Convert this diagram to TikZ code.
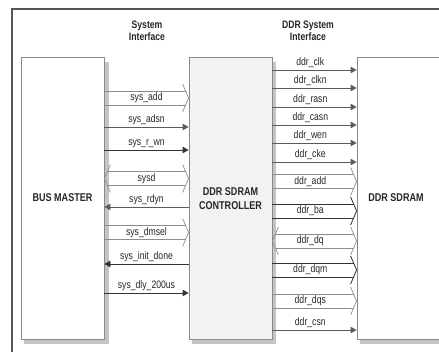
\documentclass[tikz,border=0pt]{standalone}
\usepackage{fontspec}
\setmainfont[FakeStretch=0.8]{Liberation Sans}
\usetikzlibrary{arrows.meta,calc}
\definecolor{framec}{HTML}{555555}
\definecolor{boxc}{HTML}{8A8A8A}
\definecolor{shadowc}{HTML}{C4C4C4}
\definecolor{ctrlfill}{HTML}{F2F2F2}
\definecolor{darkline}{HTML}{333333}
\definecolor{midline}{HTML}{5A5A5A}
\definecolor{lightline}{HTML}{8C8C8C}
\definecolor{textc}{HTML}{262626}
\newcommand{\mkbusright}[6]{%
  \draw[#5] (#1.east |- 0,#3-7) -- ($(#2.west |- 0,#3-7)+(-3,0)$);
  \draw[#5] (#1.east |- 0,#3+7) -- ($(#2.west |- 0,#3+7)+(-3,0)$);
  \draw[#5] ($(#2.west |- 0,#3)+(-6,-14)$) -- (#2.west |- 0,#3) -- ($(#2.west |- 0,#3)+(-6,14)$);
  \path (#1.east |- 0,#3) -- node[pos=#6, lab]{#4} (#2.west |- 0,#3);
}
\newcommand{\mkbusboth}[6]{%
  \draw[#5] ($(#1.east |- 0,#3-7)+(3,0)$) -- ($(#2.west |- 0,#3-7)+(-3,0)$);
  \draw[#5] ($(#1.east |- 0,#3+7)+(3,0)$) -- ($(#2.west |- 0,#3+7)+(-3,0)$);
  \draw[#5] ($(#2.west |- 0,#3)+(-6,-14)$) -- (#2.west |- 0,#3) -- ($(#2.west |- 0,#3)+(-6,14)$);
  \draw[#5] ($(#1.east |- 0,#3)+(6,-14)$) -- (#1.east |- 0,#3) -- ($(#1.east |- 0,#3)+(6,14)$);
  \path (#1.east |- 0,#3) -- node[pos=#6, lab]{#4} (#2.west |- 0,#3);
}
\tikzset{
  blk/.style={draw=boxc, line width=0.8pt, fill=white, minimum width=83pt, minimum height=282pt, inner sep=0pt},
  blktext/.style={font=\bfseries\fontsize{11.3}{14}\selectfont, text=black!85, align=center},
  head/.style={font=\bfseries\fontsize{10.8}{12}\selectfont, text=textc, align=center},
  lab/.style={font=\fontsize{10.8}{12}\selectfont, text=textc, inner sep=1pt},
  sigR/.style={line width=0.8pt, -{Triangle[length=6pt,width=6.5pt]}},
  sigL/.style={line width=0.8pt, {Triangle[length=6pt,width=6.5pt]}-},
  busl/.style={line width=0.7pt, draw=lightline},
  busd/.style={line width=0.8pt, draw=darkline},
}
\begin{document}
\begin{tikzpicture}[x=1pt, y=-1pt]
\useasboundingbox (0,0) rectangle (439,351);
% frame
\draw[framec, line width=1.3pt] (12,355) -- (12,9) -- (445,9);
% headers
\node[head] (h1) at (147,30.5) {System\\Interface};
\node[head] (h2) at (308,30.5) {DDR System\\Interface};
% shadows
\fill[shadowc] (24,339) rectangle (108.5,343.5);
\fill[shadowc] (104,62) rectangle (108.5,343.5);
\fill[shadowc] (192,339) rectangle (275.5,343.5);
\fill[shadowc] (272,62) rectangle (275.5,343.5);
\fill[shadowc] (360,339) rectangle (445,343.5);
% blocks
\node[blk] (bm) at (62.5,198) {};
\node[blk, fill=ctrlfill] (ctrl) at (230.5,198) {};
\node[blk, minimum width=90pt] (mem) at (402,198) {};
\node[blktext] (bmt) at (bm.center) {BUS MASTER};
\node[blktext] (ctrlt) at (230.5,198.5) {DDR SDRAM\\CONTROLLER};
\node[blktext] (memt) at (396,198) {DDR SDRAM};
% system side
\mkbusright{bm}{ctrl}{98}{sys\_add}{busl}{0.5}
\draw[sigR, midline] (bm.east |- 0,127) -- node[lab, above=0.5pt]{sys\_adsn} (ctrl.west |- 0,127);
\draw[sigR, darkline] (bm.east |- 0,150) -- node[lab, above=0.5pt]{sys\_r\_wn} (ctrl.west |- 0,150);
\mkbusboth{bm}{ctrl}{178.5}{sysd}{busl}{0.5}
\draw[sigL, midline] (bm.east |- 0,207) -- node[lab, above=0.5pt]{sys\_rdyn} (ctrl.west |- 0,207);
\mkbusright{bm}{ctrl}{232.5}{sys\_dmsel}{busl}{0.5}
\draw[sigL, darkline] (bm.east |- 0,264) -- node[lab, above=0.5pt]{sys\_init\_done} (ctrl.west |- 0,264);
\draw[sigR, darkline] (bm.east |- 0,293) -- node[lab, above=0.5pt]{sys\_dly\_200us} (ctrl.west |- 0,293);
% ddr side
\draw[sigR, midline] (ctrl.east |- 0,70) -- node[pos=0.45, lab, above=0.5pt]{ddr\_clk} (mem.west |- 0,70);
\draw[sigR, midline] (ctrl.east |- 0,88) -- node[pos=0.45, lab, above=0.5pt]{ddr\_clkn} (mem.west |- 0,88);
\draw[sigR, midline] (ctrl.east |- 0,107) -- node[pos=0.45, lab, above=0.5pt]{ddr\_rasn} (mem.west |- 0,107);
\draw[sigR, midline] (ctrl.east |- 0,125) -- node[pos=0.45, lab, above=0.5pt]{ddr\_casn} (mem.west |- 0,125);
\draw[sigR, midline] (ctrl.east |- 0,143) -- node[pos=0.45, lab, above=0.5pt]{ddr\_wen} (mem.west |- 0,143);
\draw[sigR, midline] (ctrl.east |- 0,162) -- node[pos=0.45, lab, above=0.5pt]{ddr\_cke} (mem.west |- 0,162);
\mkbusright{ctrl}{mem}{181.5}{ddr\_add}{busl}{0.45}
\mkbusright{ctrl}{mem}{211}{ddr\_ba}{busd}{0.45}
\mkbusboth{ctrl}{mem}{241}{ddr\_dq}{busl}{0.45}
\mkbusright{ctrl}{mem}{270}{ddr\_dqm}{busd}{0.45}
\mkbusright{ctrl}{mem}{301}{ddr\_dqs}{busl}{0.45}
\draw[sigR, midline] (ctrl.east |- 0,330) -- node[pos=0.45, lab, above=0.5pt]{ddr\_csn} (mem.west |- 0,330);
\end{tikzpicture}
\end{document}
